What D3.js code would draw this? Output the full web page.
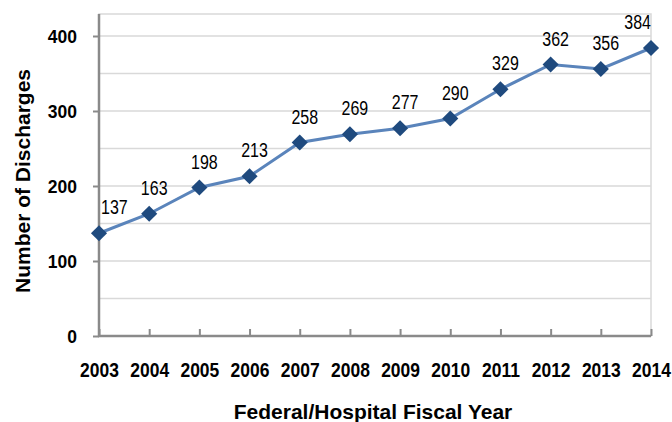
<!DOCTYPE html>
<html>
<head>
<meta charset="utf-8">
<script src="https://cdn.jsdelivr.net/npm/d3@7"></script>
<style>
  html, body { margin: 0; padding: 0; background: #ffffff; }
  svg { display: block; }
</style>
</head>
<body>
<svg id="chart" width="672" height="422"></svg>
<script>
const years = ["2003","2004","2005","2006","2007","2008","2009","2010","2011","2012","2013","2014"];
const discharges = [137,163,198,213,258,269,277,290,329,362,356,384];
const yTickValues = [0,100,200,300,400];
const gridValues = [50,100,150,200,250,300,350,400];
const xTitle = "Federal/Hospital Fiscal Year";
const yTitle = "Number of Discharges";

(function () {
const svg = d3.select("#chart");
const plotLeft = 99, plotRight = 651, plotTop = 14, plotBottom = 336;

const x = d3.scalePoint().domain(years).range([plotLeft, plotRight]).padding(0);
const y = d3.scaleLinear().domain([0, 400]).range([plotBottom, 36]);

// plot frame
svg.append("rect")
  .attr("x", plotLeft).attr("y", plotTop)
  .attr("width", plotRight - plotLeft).attr("height", plotBottom - plotTop)
  .attr("fill", "none").attr("stroke", "#d9d9d9").attr("stroke-width", 1.5);

// gridlines
svg.append("g").selectAll("line").data(gridValues).join("line")
  .attr("x1", plotLeft).attr("x2", plotRight)
  .attr("y1", d => y(d)).attr("y2", d => y(d))
  .attr("stroke", "#d9d9d9").attr("stroke-width", 1.5);

const axisColor = "#8a8a8a";
const tickFont = "'Liberation Sans', Arial, sans-serif";

// y axis
const yAxis = svg.append("g").attr("transform", `translate(${plotLeft},0)`)
  .call(d3.axisLeft(y).tickValues(yTickValues).tickSize(6).tickSizeOuter(0).tickPadding(16).tickFormat(d3.format("d")));
yAxis.select(".domain").remove();
yAxis.selectAll(".tick line").attr("stroke", axisColor).attr("stroke-width", 2);
yAxis.selectAll(".tick text")
  .attr("font-family", tickFont).attr("font-weight", "bold").attr("font-size", 17.5)
  .attr("fill", "#000").attr("dy", null).attr("x", null)
  .attr("transform", "translate(-22,6) scale(1,1.1)");

// x axis
const xAxis = svg.append("g").attr("transform", `translate(0,${plotBottom})`)
  .call(d3.axisBottom(x).tickSize(-7).tickSizeOuter(0).tickPadding(28));
xAxis.select(".domain").remove();
xAxis.selectAll(".tick line").attr("stroke", axisColor).attr("stroke-width", 2);
xAxis.selectAll(".tick text")
  .attr("font-family", tickFont).attr("font-weight", "bold").attr("font-size", 17.5)
  .attr("fill", "#000").attr("y", null).attr("dy", null)
  .attr("transform", "translate(0,41) scale(1,1.12)");

// axis lines
svg.append("line").attr("x1", plotLeft).attr("x2", plotLeft).attr("y1", plotTop).attr("y2", plotBottom + 1)
  .attr("stroke", axisColor).attr("stroke-width", 2.5);
svg.append("line").attr("x1", plotLeft - 1).attr("x2", plotRight).attr("y1", plotBottom).attr("y2", plotBottom)
  .attr("stroke", axisColor).attr("stroke-width", 2.5);

// series line
const pts = years.map((yr, i) => ({ yr, v: discharges[i] }));
svg.append("path").datum(pts)
  .attr("fill", "none").attr("stroke", "#5a84bb").attr("stroke-width", 3)
  .attr("d", d3.line().x(d => x(d.yr)).y(d => y(d.v)));

// markers
svg.append("g").selectAll("path").data(pts).join("path")
  .attr("d", d3.symbol(d3.symbolSquare, 130)())
  .attr("transform", d => `translate(${x(d.yr)},${y(d.v)}) rotate(45)`)
  .attr("fill", "#1f4a7e");

// value labels (narrow, Calibri-like proportions)
const sx = 0.82;
const labels = svg.append("g").selectAll("text").data(pts).join("text")
  .attr("font-family", "'Liberation Sans', Arial, sans-serif")
  .attr("font-size", 19.5).attr("fill", "#000").attr("text-anchor", "middle")
  .text(d => d.v);
labels.each(function (d) {
  const w = this.getComputedTextLength() * sx;
  let cx = x(d.yr) + 5;
  if (cx - w / 2 < plotLeft + 2) cx = plotLeft + 2 + w / 2;
  if (cx + w / 2 > plotRight) cx = plotRight - w / 2;
  d3.select(this).attr("transform", `translate(${cx},${y(d.v) - 19}) scale(${sx},1)`);
});

// titles
svg.append("text").attr("x", 373).attr("y", 419)
  .attr("text-anchor", "middle").attr("font-family", tickFont)
  .attr("font-weight", "bold").attr("font-size", 21).text(xTitle);
svg.append("text")
  .attr("transform", "translate(30,181) rotate(-90)")
  .attr("text-anchor", "middle").attr("font-family", tickFont)
  .attr("font-weight", "bold").attr("font-size", 21).text(yTitle);
})();
</script>
</body>
</html>
